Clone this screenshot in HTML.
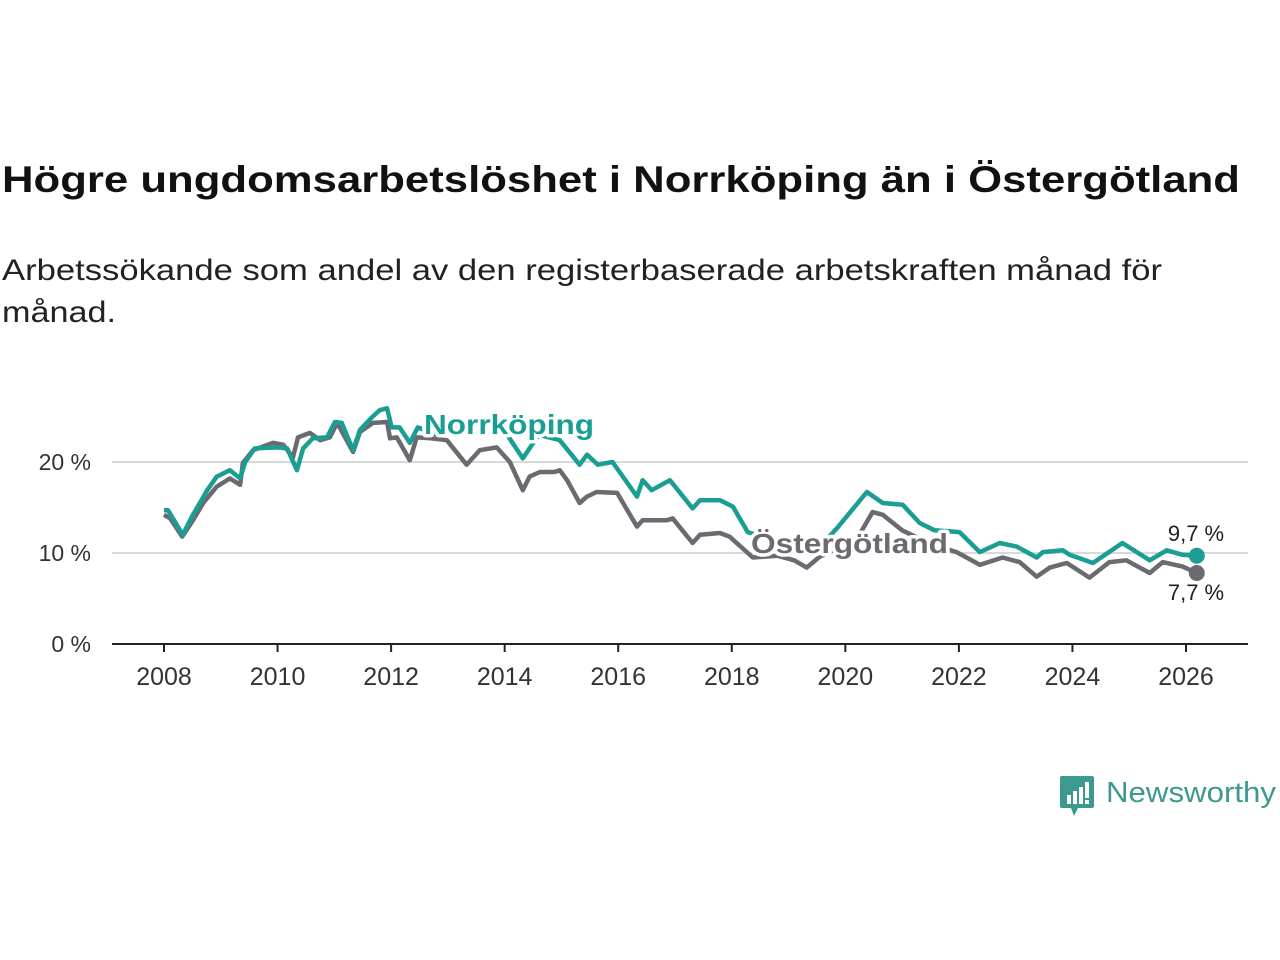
<!DOCTYPE html>
<html><head><meta charset="utf-8"><style>
html,body{margin:0;padding:0;background:#fff;}
svg{display:block;font-family:"Liberation Sans",sans-serif;}
</style></head><body>
<svg id="chart" width="1280" height="960" viewBox="0 0 1280 960">
<text x="2" y="192" font-size="37" font-weight="bold" fill="#111" textLength="1238" lengthAdjust="spacingAndGlyphs">Högre ungdomsarbetslöshet i Norrköping än i Östergötland</text>
<text x="2" y="280" font-size="30" fill="#222" textLength="1160" lengthAdjust="spacingAndGlyphs">Arbetssökande som andel av den registerbaserade arbetskraften månad för</text>
<text x="2" y="322" font-size="30" fill="#222" textLength="114" lengthAdjust="spacingAndGlyphs">månad.</text>
<g id="grid"></g><g id="axes"></g><g id="lines"></g><g id="labels"></g>
<g>
<path d="M1062 776 h30 a2 2 0 0 1 2 2 v28 a2 2 0 0 1 -2 2 h-14 l-4 8 l-3 -8 h-9 a2 2 0 0 1 -2 -2 v-28 a2 2 0 0 1 2 -2z" fill="#3b9a8d"/>
<rect x="1067" y="795" width="4" height="9" fill="#fff"/><rect x="1073" y="791" width="4" height="13" fill="#fff"/><rect x="1079" y="787" width="4" height="17" fill="#fff"/><rect x="1085" y="782" width="4" height="16" fill="#fff"/><rect x="1085" y="800" width="4" height="4" fill="#fff"/>
<text x="1106" y="802" font-size="29" fill="#3b9a8d" textLength="170" lengthAdjust="spacingAndGlyphs">Newsworthy</text>
</g>
</svg>
<script>
const norrYears=[2008.0,2008.07,2008.33,2008.51,2008.76,2008.93,2009.16,2009.34,2009.43,2009.6,2009.99,2010.17,2010.34,2010.45,2010.62,2010.87,2011.01,2011.13,2011.33,2011.45,2011.66,2011.8,2011.93,2012.01,2012.15,2012.33,2012.47,2012.8,2013.2,2013.6,2014.0,2014.32,2014.6,2014.97,2015.32,2015.45,2015.64,2015.9,2016.33,2016.43,2016.59,2016.91,2017.31,2017.44,2017.79,2018.02,2018.28,2018.7,2019.2,2019.6,2019.85,2020.38,2020.66,2021.01,2021.31,2021.57,2022.01,2022.37,2022.72,2023.02,2023.37,2023.48,2023.83,2023.95,2024.36,2024.88,2025.36,2025.66,2025.94,2026.19];
const norrValues=[14.7,14.7,12.0,14.2,16.9,18.4,19.1,18.2,20.0,21.5,21.6,21.5,19.1,21.5,22.6,22.7,24.4,24.3,21.3,23.5,24.9,25.7,25.9,23.8,23.8,22.1,23.8,23.0,23.6,23.2,23.4,20.4,23.0,22.4,19.7,20.8,19.7,20.0,16.2,18.0,16.9,18.0,14.9,15.8,15.8,15.1,12.3,11.5,10.5,11.0,12.7,16.7,15.5,15.3,13.3,12.5,12.3,10.1,11.1,10.7,9.5,10.1,10.3,9.8,8.9,11.1,9.2,10.3,9.8,9.7];
const ostYears=[2008.0,2008.11,2008.32,2008.51,2008.69,2008.93,2009.16,2009.34,2009.39,2009.57,2009.92,2010.1,2010.27,2010.36,2010.57,2010.75,2010.92,2011.05,2011.33,2011.45,2011.68,2011.93,2011.98,2012.1,2012.33,2012.45,2012.7,2012.98,2013.33,2013.56,2013.86,2014.09,2014.32,2014.44,2014.62,2014.88,2014.97,2015.1,2015.32,2015.45,2015.62,2015.98,2016.33,2016.43,2016.86,2016.96,2017.31,2017.44,2017.79,2017.96,2018.37,2018.8,2019.1,2019.32,2019.55,2019.9,2020.2,2020.48,2020.66,2021.0,2021.5,2021.96,2022.37,2022.77,2023.07,2023.37,2023.6,2023.9,2024.3,2024.65,2024.95,2025.36,2025.59,2025.94,2026.19];
const ostValues=[14.2,13.8,11.8,13.6,15.5,17.3,18.2,17.5,19.9,21.3,22.1,21.9,20.5,22.7,23.2,22.4,22.7,24.3,21.1,23.3,24.3,24.4,22.6,22.7,20.2,22.7,22.6,22.4,19.7,21.3,21.6,20.0,16.9,18.4,18.9,18.9,19.1,18.0,15.5,16.2,16.7,16.6,12.9,13.6,13.6,13.8,11.1,12.0,12.2,11.8,9.5,9.7,9.2,8.4,9.6,10.5,11.5,14.5,14.2,12.5,11.0,10.1,8.7,9.5,9.0,7.4,8.4,8.9,7.3,9.0,9.2,7.8,9.0,8.5,7.8];
const yTicks=[0,10,20];
const yTickLabels=["0 %","10 %","20 %"];
const xTicks=[2008,2010,2012,2014,2016,2018,2020,2022,2024,2026];
const endLabels=["9,7 %","7,7 %"];

const NS="http://www.w3.org/2000/svg";
const x=v=>164+(v-2008)*(1186-164)/18;
const y=v=>644-v*9.1;
function mk(tag,attrs,parent){const e=document.createElementNS(NS,tag);for(const k in attrs)e.setAttribute(k,attrs[k]);parent.appendChild(e);return e;}
const grid=document.getElementById('grid'),axes=document.getElementById('axes'),lines=document.getElementById('lines'),labels=document.getElementById('labels');
yTicks.forEach((t,i)=>{
  if(t>0){const g=mk('line',{x1:112,x2:1248,y1:y(t),y2:y(t),stroke:'#d9d9d9','stroke-width':2},grid);
  
  }
  const tx=mk('text',{x:91,y:y(t)+8,'font-size':23,fill:'#333','text-anchor':'end'},axes);tx.textContent=yTickLabels[i];
  
  
});
const base=mk('line',{x1:112,x2:1248,y1:644,y2:644,stroke:'#222','stroke-width':2},axes);


xTicks.forEach(t=>{
  const tk=mk('line',{x1:x(t),x2:x(t),y1:644,y2:652,stroke:'#222','stroke-width':2},axes);
  
  
  const tx=mk('text',{x:x(t),y:685,'font-size':25,fill:'#333','text-anchor':'middle'},axes);tx.textContent=t;
  
  
});
function path(xs,vs){return xs.map((a,i)=>(i?'L':'M')+x(a).toFixed(1)+' '+y(vs[i]).toFixed(1)).join(' ');}
const lo=mk('path',{d:path(ostYears,ostValues),fill:'none',stroke:'#6b6a70','stroke-width':4.5,'stroke-linejoin':'round'},lines);


const ln=mk('path',{d:path(norrYears,norrValues),fill:'none',stroke:'#1a9e94','stroke-width':4.5,'stroke-linejoin':'round'},lines);


const nl=norrYears.length-1,ol=ostYears.length-1;
const d1=mk('circle',{cx:x(norrYears[nl]),cy:y(norrValues[nl]),r:8,fill:'#1a9e94'},lines);


const d2=mk('circle',{cx:x(ostYears[ol]),cy:y(ostValues[ol]),r:8,fill:'#6b6a70'},lines);


const e1=mk('text',{x:1196,y:541,'font-size':22,fill:'#222','text-anchor':'middle'},labels);e1.textContent=endLabels[0];


const e2=mk('text',{x:1196,y:600,'font-size':22,fill:'#222','text-anchor':'middle'},labels);e2.textContent=endLabels[1];


const s1=mk('text',{x:424,y:434,'font-size':28,'font-weight':'bold',fill:'#1a9e94',stroke:'#fff','stroke-width':7,'paint-order':'stroke','stroke-linejoin':'round',textLength:170,lengthAdjust:'spacingAndGlyphs'},labels);s1.textContent='Norrköping';


const s2=mk('text',{x:751,y:553,'font-size':28,'font-weight':'bold',fill:'#6b6a70',stroke:'#fff','stroke-width':7,'paint-order':'stroke','stroke-linejoin':'round',textLength:197,lengthAdjust:'spacingAndGlyphs'},labels);s2.textContent='Östergötland';


</script>
</body></html>
